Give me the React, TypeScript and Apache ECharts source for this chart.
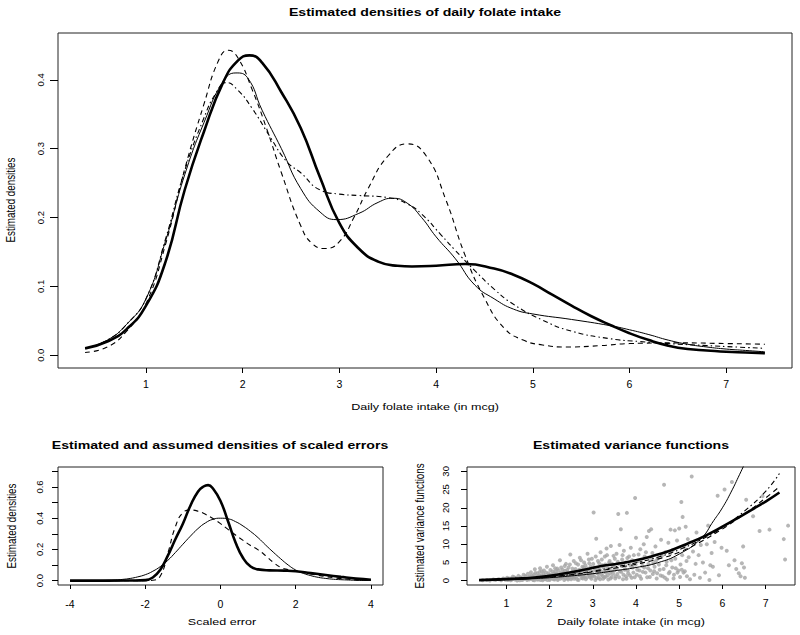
import React, { useEffect, useRef } from "react";
import * as echarts from "echarts";

// ---------- Top panel: estimated densities of daily folate intake ----------
const thickX = [0.37, 0.6, 0.8, 1.0, 1.2, 1.4, 1.6, 1.8, 1.95, 2.07, 2.2, 2.4, 2.6, 2.8, 3.0, 3.2, 3.4, 3.6, 3.75, 4.0, 4.3, 4.6, 4.8, 5.0, 5.2, 5.4, 5.6, 5.8, 6.0, 6.2, 6.4, 6.6, 6.8, 7.0, 7.2, 7.4];
const thickY = [0.010, 0.020, 0.038, 0.072, 0.135, 0.240, 0.325, 0.397, 0.428, 0.4355, 0.425, 0.382, 0.330, 0.258, 0.192, 0.155, 0.136, 0.130, 0.129, 0.130, 0.1325, 0.126, 0.117, 0.104, 0.088, 0.072, 0.057, 0.044, 0.032, 0.022, 0.014, 0.009, 0.007, 0.005, 0.004, 0.003];
const thinX = [0.37, 0.6, 0.8, 1.0, 1.2, 1.4, 1.6, 1.8, 1.93, 2.05, 2.2, 2.4, 2.6, 2.8, 2.97, 3.2, 3.4, 3.55, 3.7, 3.85, 4.0, 4.2, 4.4, 4.6, 4.8, 5.0, 5.4, 5.8, 6.0, 6.2, 6.4, 6.6, 6.8, 7.0, 7.2, 7.4];
const thinY = [0.010, 0.022, 0.045, 0.082, 0.165, 0.262, 0.338, 0.398, 0.410, 0.403, 0.356, 0.300, 0.242, 0.208, 0.197, 0.206, 0.222, 0.228, 0.221, 0.200, 0.172, 0.140, 0.102, 0.082, 0.067, 0.060, 0.052, 0.043, 0.037, 0.030, 0.022, 0.016, 0.012, 0.009, 0.007, 0.005];
const dashedX = [0.37, 0.6, 0.8, 1.0, 1.2, 1.4, 1.6, 1.75, 1.85, 1.95, 2.1, 2.25, 2.4, 2.6, 2.72, 2.85, 3.0, 3.15, 3.3, 3.5, 3.7, 3.9, 4.1, 4.3, 4.5, 4.7, 4.9, 5.1, 5.35, 5.7, 6.0, 6.5, 7.0, 7.4];
const dashedY = [0.004, 0.012, 0.035, 0.075, 0.160, 0.270, 0.365, 0.428, 0.443, 0.432, 0.385, 0.328, 0.265, 0.188, 0.162, 0.155, 0.165, 0.200, 0.243, 0.289, 0.307, 0.289, 0.226, 0.145, 0.083, 0.040, 0.022, 0.015, 0.012, 0.014, 0.017, 0.018, 0.017, 0.016];
const dotDashX = [0.37, 0.6, 0.8, 1.0, 1.2, 1.4, 1.6, 1.72, 1.83, 1.95, 2.1, 2.28, 2.45, 2.6, 2.8, 3.0, 3.2, 3.5, 3.7, 3.85, 4.05, 4.2, 4.4, 4.6, 4.8, 5.1, 5.4, 5.8, 6.1, 6.4, 6.8, 7.1, 7.4];
const dotDashY = [0.010, 0.022, 0.045, 0.082, 0.168, 0.268, 0.345, 0.380, 0.396, 0.385, 0.358, 0.318, 0.282, 0.265, 0.240, 0.234, 0.232, 0.229, 0.220, 0.205, 0.175, 0.152, 0.123, 0.096, 0.074, 0.051, 0.035, 0.024, 0.020, 0.017, 0.014, 0.012, 0.010];
const intakeTicks = [1, 2, 3, 4, 5, 6, 7];
const densTicks = [0, 0.1, 0.2, 0.3, 0.4];

// ---------- Bottom-left: densities of scaled errors ----------
const errThickX = [-4.0, -3.0, -2.4, -2.0, -1.8, -1.6, -1.4, -1.2, -1.0, -0.8, -0.6, -0.45, -0.33, -0.2, 0.0, 0.2, 0.4, 0.6, 0.8, 1.0, 1.3, 1.7, 2.0, 2.4, 2.8, 3.2, 3.6, 4.0];
const errThickY = [0, 0, 0.001, 0.003, 0.020, 0.070, 0.160, 0.265, 0.365, 0.480, 0.570, 0.603, 0.612, 0.590, 0.510, 0.380, 0.245, 0.145, 0.090, 0.072, 0.066, 0.064, 0.060, 0.048, 0.036, 0.024, 0.013, 0.006];
const errX = [-4.0, -3.8, -3.6, -3.4, -3.2, -3.0, -2.8, -2.6, -2.4, -2.2, -2.0, -1.8, -1.6, -1.4, -1.2, -1.0, -0.8, -0.6, -0.4, -0.2, 0.0, 0.2, 0.4, 0.6, 0.8, 1.0, 1.2, 1.4, 1.6, 1.8, 2.0, 2.2, 2.4, 2.6, 2.8, 3.0, 3.2, 3.4, 3.6, 3.8, 4.0];
const errThin = [0.000, 0.000, 0.000, 0.001, 0.001, 0.002, 0.004, 0.008, 0.014, 0.024, 0.038, 0.060, 0.090, 0.130, 0.180, 0.233, 0.285, 0.333, 0.370, 0.393, 0.400, 0.396, 0.378, 0.350, 0.315, 0.275, 0.228, 0.183, 0.140, 0.100, 0.068, 0.047, 0.032, 0.021, 0.014, 0.009, 0.006, 0.004, 0.002, 0.001, 0.001];
const errDashed = [0, 0, 0, 0, 0, 0, 0, 0, 0, 0, 0, 0.002, 0.030, 0.175, 0.345, 0.435, 0.452, 0.445, 0.425, 0.398, 0.365, 0.328, 0.292, 0.258, 0.225, 0.197, 0.160, 0.118, 0.085, 0.070, 0.061, 0.052, 0.043, 0.034, 0.026, 0.019, 0.013, 0.009, 0.005, 0.003, 0.002];
const errTicks = [-4, -2, 0, 2, 4];
const errDensTicks = [0, 0.1, 0.2, 0.3, 0.4, 0.5, 0.6, 0.7];
const errDensLabels = [0, 0.2, 0.4, 0.6];

// ---------- Bottom-right: estimated variance functions ----------
const varThickX = [0.37, 0.8, 1.2, 1.6, 2.0, 2.4, 2.8, 3.2, 3.6, 4.0, 4.4, 4.8, 5.2, 5.6, 6.0, 6.4, 6.8, 7.0, 7.32];
const varThick = [0.15, 0.35, 0.55, 0.8, 1.35, 2.1, 3.0, 4.0, 4.7, 5.6, 6.8, 8.3, 10.2, 12.3, 14.8, 17.5, 20.3, 21.7, 24.2];
const varThinX = [0.37, 1.0, 1.5, 2.0, 2.5, 3.0, 3.5, 4.0, 4.5, 5.0, 5.5, 5.8, 6.0, 6.2, 6.4, 6.55];
const varThin = [0.05, 0.2, 0.45, 0.8, 1.3, 1.9, 2.7, 3.6, 4.9, 7.3, 11.5, 16.5, 20.0, 24.3, 29.2, 33.0];
const varOtherX = [0.37, 1.0, 1.5, 2.0, 2.5, 3.0, 3.5, 4.0, 4.5, 5.0, 5.5, 6.0, 6.5, 7.0, 7.32];
const varDashed = [0.1, 0.3, 0.6, 1.0, 1.6, 2.4, 3.4, 4.5, 5.9, 7.8, 10.7, 14.2, 18.2, 22.7, 25.8];
const varDotDash = [0.1, 0.3, 0.6, 1.0, 1.7, 2.6, 3.7, 4.9, 6.4, 8.5, 11.2, 14.6, 19.0, 24.5, 29.4];
const varTicks = [0, 5, 10, 15, 20, 25, 30];
const varPoints = [
  [0.45, 0.1], [0.55, 0.2], [0.62, 0.05], [0.7, 0.3], [0.75, 0.15], [0.82, 0.4], [0.88, 0.1], [0.93, 0.6], [0.98, 0.25], [1.02, 0.8],
  [1.05, 0.35], [1.1, 0.1], [1.12, 0.5], [1.15, 1.1], [1.2, 0.3], [1.22, 0.7], [1.25, 0.05], [1.28, 1.3], [1.3, 0.45], [1.33, 0.9],
  [1.36, 0.2], [1.4, 1.6], [1.42, 0.6], [1.45, 1.0], [1.48, 0.15], [1.5, 1.9],
  [1.52, 0.5], [1.55, 1.2], [1.57, 2.3], [1.6, 0.8], [1.62, 0.2], [1.64, 1.6], [1.66, 3.1], [1.68, 0.6], [1.7, 1.0], [1.72, 2.0],
  [1.74, 0.3], [1.76, 1.4], [1.78, 3.4], [1.8, 0.7], [1.82, 2.6], [1.84, 0.1], [1.86, 1.8], [1.88, 1.1], [1.9, 0.4], [1.92, 2.2],
  [1.94, 3.8], [1.96, 0.9], [1.98, 1.5], [2.0, 0.2], [2.02, 2.9], [2.04, 1.2], [2.06, 0.6], [2.08, 4.2], [2.1, 1.9], [2.12, 0.3],
  [2.14, 2.5], [2.16, 1.0], [2.18, 3.3], [2.2, 0.5], [2.22, 1.6], [2.24, 5.6], [2.26, 2.1], [2.28, 0.8], [2.3, 3.0], [2.32, 1.3],
  [2.34, 0.2], [2.36, 2.7], [2.38, 4.6], [2.4, 1.1], [2.42, 0.6], [2.44, 3.6], [2.46, 1.8], [2.48, 7.2], [2.5, 0.4],
  [2.52, 2.4], [2.54, 1.4], [2.56, 5.4], [2.58, 0.9], [2.6, 3.2], [2.62, 2.0], [2.64, 0.3], [2.66, 4.4], [2.68, 1.6], [2.7, 6.3],
  [2.72, 2.8], [2.74, 0.7], [2.76, 3.8], [2.78, 1.2], [2.8, 5.0], [2.82, 2.2], [2.84, 0.4], [2.86, 3.4], [2.88, 7.4], [2.9, 1.8],
  [2.92, 4.8], [2.94, 0.9], [2.96, 2.6], [2.98, 6.0], [3.0, 1.4], [3.02, 18.7], [3.04, 3.6], [3.06, 0.2], [3.08, 11.5], [3.1, 2.0],
  [3.12, 5.4], [3.14, 0.8], [3.16, 3.0], [3.18, 7.8], [3.2, 1.6], [3.22, 4.2], [3.24, 0.5], [3.26, 2.4], [3.28, 6.6], [3.3, 1.1],
  [3.32, 8.8], [3.34, 3.4], [3.36, 0.3], [3.38, 5.0], [3.4, 2.0], [3.42, 9.5], [3.44, 1.0], [3.46, 4.0], [3.48, 6.8],
  [3.5, 2.8], [3.52, 0.6], [3.55, 7.4], [3.57, 1.8], [3.59, 18.3], [3.6, 4.6], [3.62, 9.8], [3.65, 14.1], [3.66, 2.4], [3.68, 5.8],
  [3.7, 0.4], [3.72, 8.2], [3.75, 3.2], [3.77, 1.2], [3.79, 18.6], [3.8, 6.2], [3.82, 2.0], [3.85, 4.4], [3.88, 9.0], [3.9, 0.8],
  [3.92, 3.6], [3.95, 7.0], [3.98, 22.7], [4.0, 11.8], [4.02, 1.6], [4.05, 5.4], [4.08, 2.8], [4.1, 8.6], [4.12, 0.5], [4.15, 4.0],
  [4.18, 10.0], [4.2, 6.6], [4.22, 2.2], [4.25, 12.0], [4.28, 3.4], [4.3, 13.6], [4.32, 1.0], [4.35, 14.1], [4.38, 7.6], [4.4, 4.8],
  [4.42, 2.6], [4.45, 9.4], [4.48, 0.6],
  [4.5, 6.0], [4.55, 3.0], [4.58, 11.2], [4.62, 1.2], [4.65, 26.3], [4.68, 7.8], [4.7, 4.2], [4.72, 0.3], [4.75, 10.4], [4.78, 2.4],
  [4.8, 14.0], [4.82, 5.6], [4.85, 8.4], [4.88, 1.6], [4.9, 13.8], [4.92, 3.4], [4.95, 11.0], [4.98, 2.8], [5.0, 14.3], [5.02, 1.0],
  [5.05, 21.6], [5.06, 3.0], [5.08, 17.5], [5.1, 2.2], [5.12, 9.2], [5.15, 14.8], [5.18, 1.2], [5.2, 11.4], [5.22, 6.4], [5.25, 0.4],
  [5.29, 28.6], [5.32, 8.0], [5.35, 1.6], [5.38, 4.6], [5.4, 13.2], [5.45, 7.0], [5.48, 0.8], [5.5, 9.8],
  [5.55, 5.0], [5.6, 2.2], [5.64, 10.0], [5.67, 15.1], [5.7, 0.2], [5.72, 4.2], [5.75, 7.6], [5.78, 3.8], [5.82, 10.6], [5.89, 23.3],
  [5.92, 1.5], [5.98, 9.0], [6.05, 25.0], [6.1, 8.2], [6.15, 4.2], [6.22, 27.1], [6.28, 5.6], [6.32, 3.2], [6.38, 2.0], [6.42, 1.2],
  [6.45, 4.8], [6.48, 9.4], [6.5, 3.6], [6.52, 0.8], [6.55, 22.2],
  [6.71, 17.7], [6.86, 13.6], [6.93, 23.2], [7.09, 14.0], [7.42, 11.4], [7.45, 5.8], [7.52, 15.1],
];
const varPointsDense = [
  [1.03, 0.2], [1.08, 0.6], [1.13, 0.3], [1.18, 0.9], [1.24, 0.4], [1.31, 0.1], [1.35, 0.7], [1.39, 0.3], [1.44, 1.3], [1.47, 0.5],
  [1.51, 0.9], [1.53, 0.3], [1.56, 0.6], [1.59, 1.4], [1.61, 0.4], [1.63, 1.0], [1.65, 0.1], [1.67, 2.1], [1.69, 0.8], [1.71, 0.3],
  [1.73, 1.2], [1.75, 0.6], [1.77, 2.4], [1.79, 0.2], [1.81, 1.5], [1.83, 0.9], [1.85, 0.4], [1.87, 2.8], [1.89, 1.3], [1.91, 0.6],
  [1.93, 1.0], [1.95, 0.2], [1.97, 2.0], [1.99, 1.2], [2.01, 0.5], [2.03, 1.7], [2.05, 0.9], [2.07, 2.5], [2.09, 0.4], [2.11, 1.4],
  [2.13, 3.4], [2.15, 0.7], [2.17, 1.9], [2.19, 0.2], [2.21, 2.8], [2.23, 1.0], [2.25, 0.5], [2.27, 3.6], [2.29, 1.5], [2.31, 0.9],
  [2.33, 2.2], [2.35, 4.0], [2.37, 0.6], [2.39, 1.8], [2.41, 2.9], [2.43, 0.3], [2.45, 1.2], [2.47, 4.4], [2.49, 2.0], [2.51, 0.8],
  [2.53, 3.3], [2.55, 1.7], [2.57, 0.5], [2.59, 2.6], [2.61, 4.8], [2.63, 1.1], [2.65, 2.2], [2.67, 0.2], [2.69, 3.0], [2.71, 1.5],
  [2.73, 5.6], [2.75, 2.4], [2.77, 0.6], [2.79, 3.6], [2.81, 1.0], [2.83, 4.2], [2.85, 2.0], [2.87, 0.9], [2.89, 3.0], [2.91, 5.8],
  [2.93, 1.4], [2.95, 3.8], [2.97, 0.5], [2.99, 2.2], [3.01, 4.6], [3.03, 1.2], [3.05, 2.9], [3.07, 6.6], [3.09, 0.7], [3.11, 3.4],
  [3.13, 1.8], [3.15, 4.8], [3.17, 0.4], [3.19, 2.6], [3.21, 5.8], [3.23, 1.3], [3.25, 3.6], [3.27, 0.9], [3.29, 4.4], [3.31, 2.2],
  [3.33, 7.0], [3.35, 1.5], [3.37, 3.0], [3.39, 5.4], [3.41, 0.6], [3.43, 2.6], [3.45, 4.6], [3.47, 1.9], [3.49, 3.8], [3.51, 6.0],
  [3.53, 1.2], [3.56, 3.4], [3.58, 5.2], [3.61, 0.9], [3.63, 2.6], [3.67, 4.0], [3.69, 7.0], [3.71, 1.6], [3.74, 3.0], [3.76, 5.0],
  [3.78, 0.5], [3.81, 2.8], [3.84, 6.6], [3.86, 1.4], [3.89, 3.8], [3.91, 5.6], [3.94, 2.2], [3.97, 0.9], [3.99, 4.4], [4.03, 3.0],
  [4.06, 7.2], [4.09, 1.2], [4.13, 5.0], [4.16, 2.4], [4.19, 3.6], [4.23, 7.8], [4.26, 0.9], [4.29, 4.6], [4.33, 2.8], [4.36, 6.2],
  [4.39, 1.8], [4.43, 3.8], [4.46, 5.4], [4.49, 2.0], [4.53, 4.4], [4.57, 1.4], [4.6, 6.8], [4.64, 3.2], [4.67, 0.8], [4.71, 5.2],
  [4.76, 2.0], [4.79, 7.4], [4.84, 3.6], [4.87, 0.6], [4.91, 6.0], [4.96, 2.2], [5.03, 4.4], [5.07, 7.0], [5.13, 2.6], [5.17, 5.4],
];

const FONT = "'Liberation Sans', Arial, Helvetica, sans-serif";
const zip = (xs: number[], ys: number[]) => xs.map((x, i) => [x, ys[i]]);

const STYLES: Record<string, any> = {
  thick: { color: "#000", width: 2.6, type: "solid" },
  thin: { color: "#000", width: 1, type: "solid" },
  dashed: { color: "#000", width: 1.1, type: [5, 4] },
  dotdash: { color: "#000", width: 1.1, type: [1.5, 3, 5, 3] },
};

function xAxisDef(grid: number, min: number, max: number, ticks: number[], tickLen: number, margin: number) {
  return {
    gridIndex: grid, type: "value", min, max,
    splitLine: { show: false },
    axisLine: { show: false, onZero: false },
    axisTick: { show: true, length: tickLen, inside: false, customValues: ticks, lineStyle: { color: "#000", width: 1 } },
    axisLabel: { show: true, customValues: ticks, margin, color: "#000", fontSize: 10.5, fontFamily: FONT, formatter: (v: number) => String(v) },
  };
}

function yAxisDef(grid: number, min: number, max: number, ticks: number[], labels: number[], tickLen: number, margin: number, digits: number) {
  return {
    gridIndex: grid, type: "value", min, max,
    splitLine: { show: false },
    axisLine: { show: false, onZero: false },
    axisTick: { show: true, length: tickLen, inside: false, customValues: ticks, lineStyle: { color: "#000", width: 1 } },
    axisLabel: { show: true, customValues: labels, margin, rotate: 90, color: "#000", fontSize: 9.5, fontFamily: FONT, formatter: (v: number) => v.toFixed(digits) },
  };
}

function line(xi: number, data: number[][], style: string, z = 3) {
  return {
    type: "line", xAxisIndex: xi, yAxisIndex: xi, data, showSymbol: false, symbol: "none",
    smooth: 0.5, lineStyle: STYLES[style], z, silent: true,
  };
}

function txt(text: string, x: number, y: number, size: number, bold: boolean, vertical = false, stretch = 1.28) {
  return {
    type: "text", x, y,
    rotation: vertical ? Math.PI / 2 : 0,
    scaleX: vertical ? 1 : stretch,
    scaleY: vertical ? stretch : 1,
    style: { text, fontSize: size, fontWeight: bold ? "bold" : "normal", fontFamily: FONT, fill: "#000", align: "center", verticalAlign: "middle" },
  };
}

export default function App() {
  const ref = useRef<HTMLDivElement>(null);
  useEffect(() => {
    if (!ref.current) return;
    const chart = echarts.init(ref.current, null, { renderer: "svg" });
    const gridBase = { show: true, borderColor: "#222", borderWidth: 1, backgroundColor: "transparent", containLabel: false };
    const scatterBase = { type: "scatter", xAxisIndex: 2, yAxisIndex: 2, symbol: "circle", symbolSize: 4, itemStyle: { color: "#a4a4a4" }, z: 2, silent: true };
    chart.setOption({
      animation: false,
      backgroundColor: "#fff",
      grid: [
        { ...gridBase, left: 58, top: 33, width: 734, height: 335 },
        { ...gridBase, left: 58, top: 467, width: 325, height: 118 },
        { ...gridBase, left: 467, top: 467, width: 328, height: 118 },
      ],
      xAxis: [
        xAxisDef(0, 0.09, 7.68, intakeTicks, 5, 10),
        xAxisDef(1, -4.32, 4.32, errTicks, 4, 13),
        xAxisDef(2, 0.09, 7.68, intakeTicks, 4, 12),
      ],
      yAxis: [
        yAxisDef(0, -0.0185, 0.468, densTicks, densTicks, 8, 13, 1),
        yAxisDef(1, -0.028, 0.728, errDensTicks, errDensLabels, 6, 14, 1),
        yAxisDef(2, -1.2, 31.2, varTicks, varTicks, 6, 17, 0),
      ],
      series: [
        line(0, zip(dashedX, dashedY), "dashed"),
        line(0, zip(dotDashX, dotDashY), "dotdash"),
        line(0, zip(thinX, thinY), "thin"),
        line(0, zip(thickX, thickY), "thick", 4),
        line(1, zip(errX, errDashed), "dashed"),
        line(1, zip(errX, errThin), "thin"),
        line(1, zip(errThickX, errThickY), "thick", 4),
        { ...scatterBase, data: varPoints },
        { ...scatterBase, data: varPointsDense },
        line(2, zip(varOtherX, varDashed), "dashed"),
        line(2, zip(varOtherX, varDotDash), "dotdash"),
        line(2, zip(varThinX, varThin), "thin"),
        line(2, zip(varThickX, varThick), "thick", 4),
      ],
      graphic: [
        txt("Estimated densities of daily folate intake", 425, 12, 11.3, true, false, 1.25),
        txt("Daily folate intake (in mcg)", 425, 407, 9.8, false),
        txt("Estimated densities", 11, 200, 9.8, false, true),
        txt("Estimated and assumed densities of scaled errors", 220, 445, 11.3, true, false, 1.25),
        txt("Scaled error", 222, 622, 9.8, false),
        txt("Estimated densities", 12, 526, 9.8, false, true),
        txt("Estimated variance functions", 631, 445, 11.3, true, false, 1.25),
        txt("Daily folate intake (in mcg)", 631, 622, 9.8, false),
        txt("Estimated variance functions", 420, 526, 9.8, false, true),
      ],
    });
    return () => chart.dispose();
  }, []);
  return <div ref={ref} style={{ position: "absolute", left: 0, top: 0, width: 800, height: 635, background: "#fff" }} />;
}
